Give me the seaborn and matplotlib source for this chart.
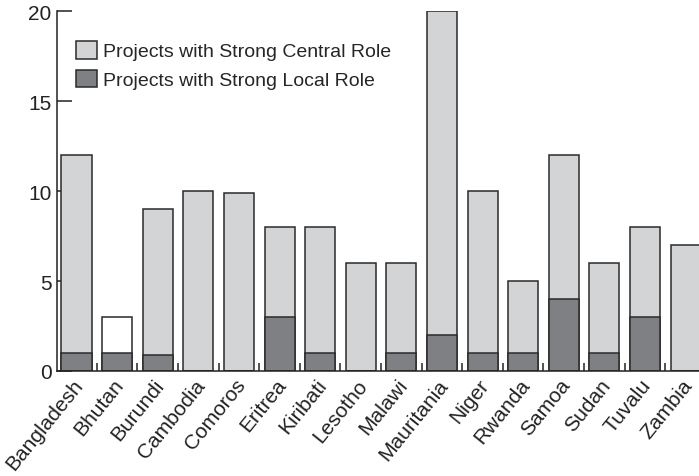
import matplotlib
matplotlib.use("Agg")
import matplotlib.pyplot as plt
import matplotlib.transforms as mtransforms
from matplotlib.patches import Patch
import seaborn as sns
import pandas as pd

countries = ["Bangladesh", "Bhutan", "Burundi", "Cambodia", "Comoros", "Eritrea",
             "Kiribati", "Lesotho", "Malawi", "Mauritania", "Niger", "Rwanda",
             "Samoa", "Sudan", "Tuvalu", "Zambia"]
central_total = [12, 3, 9, 10, 9.9, 8, 8, 6, 6, 20, 10, 5, 12, 6, 8, 7]
local_role = [1, 1, 0.9, 0, 0, 3, 1, 0, 1, 2, 1, 1, 4, 1, 3, 0]
legend_labels = ["Projects with Strong Central Role", "Projects with Strong Local Role"]
y_ticks = [0, 5, 10, 15, 20]

light = "#d3d4d6"
dark = "#7f8083"
edge = "#2a2a2a"

df = pd.DataFrame({"country": countries, "total": central_total, "local": local_role})

sns.set_theme(style="ticks")
plt.rcParams["font.family"] = ["Liberation Sans", "DejaVu Sans"]

fig = plt.figure(figsize=(6.99, 4.77), dpi=100)
ax = fig.add_axes([57 / 699, 105 / 477, 1 - 57 / 699, 360 / 477])

# Total bars first (Bhutan drawn unfilled), local-role bars overlaid from zero
total_colors = [("white" if c == "Bhutan" else light) for c in countries]
sns.barplot(data=df, x="country", y="total", hue="country", palette=total_colors,
            legend=False, width=0.74, edgecolor=edge, linewidth=1.1, ax=ax,
            saturation=1)
sns.barplot(data=df, x="country", y="local", color=dark, width=0.74,
            edgecolor=edge, linewidth=1.1, ax=ax, saturation=1)

ax.set_xlim(-0.48, 15.33)
ax.set_ylim(0, 20)
ax.set_yticks(y_ticks)
ax.set_axisbelow(True)
ax.set_xlabel("")
ax.set_ylabel("")

for s in ["top", "right"]:
    ax.spines[s].set_visible(False)
for s in ["left", "bottom"]:
    ax.spines[s].set_color("#222222")
    ax.spines[s].set_linewidth(1.1)

ax.tick_params(axis="y", direction="in", length=11, width=1.1, color="#222222",
               labelsize=15, pad=4, labelcolor="#222222")
ax.tick_params(axis="x", which="major", length=0, labelsize=15, pad=3,
               labelcolor="#222222")
ax.set_xticks([i + 0.5 for i in range(len(countries) - 1)], minor=True)
ax.tick_params(axis="x", which="minor", direction="in", length=6, width=1.1,
               color="#222222")

shift = mtransforms.ScaledTranslation(-0.045, 0, fig.dpi_scale_trans)
for lab in ax.get_xticklabels():
    lab.set_rotation(51)
    lab.set_ha("right")
    lab.set_rotation_mode("anchor")
    lab.set_transform(lab.get_transform() + shift)

handles = [Patch(facecolor=light, edgecolor=edge, linewidth=1.1),
           Patch(facecolor=dark, edgecolor=edge, linewidth=1.1)]
ax.legend(handles, legend_labels, loc="upper left", bbox_to_anchor=(0.03, 0.917),
          frameon=False, fontsize=14, handlelength=1.08, handleheight=1.03,
          handletextpad=0.3, labelspacing=0.47, borderaxespad=0, borderpad=0)

fig.savefig("out.png", dpi=100)
